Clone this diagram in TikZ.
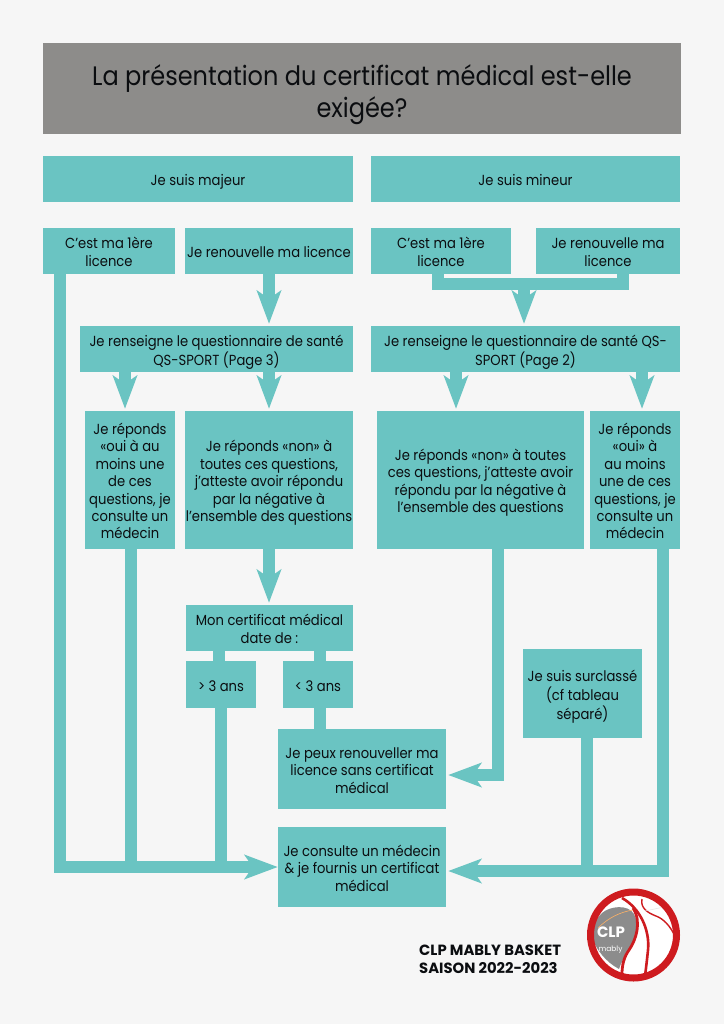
\documentclass[tikz,border=0pt]{standalone}
\usepackage{fontspec}
\setmainfont{Poppins}[FakeStretch=0.9]
\newfontfamily\footfont{Poppins}
\usetikzlibrary{arrows.meta,calc}
\definecolor{teal1}{HTML}{6AC4C2}
\definecolor{pagebg}{HTML}{F6F6F6}
\definecolor{ink}{HTML}{0B0D10}
\definecolor{logored}{HTML}{CE1B1F}
\definecolor{logogray}{HTML}{8C8C8C}
\definecolor{titlegray}{HTML}{8D8C8A}
\tikzset{
  x=1pt,y=-1pt,
  boxn/.style={fill=teal1,text=ink,inner sep=0pt,font=\fontsize{14.6}{17.4}\selectfont},
  link/.style={draw=teal1,line width=12pt},
  flow/.style={link,-{Stealth[length=33pt,width=24pt,inset=8pt]},shorten >=2pt},
  flowb/.style={link,-{Stealth[length=33pt,width=24pt,inset=8pt]},shorten >=0pt},
}
\newcommand{\lowtxt}[2]{\raisebox{-#1}[\height][\depth]{\begin{tabular}{@{}c@{}}#2\end{tabular}}}
\newcommand{\bx}[6]{\node[boxn,minimum width=#4pt-#2pt,minimum height=#5pt-#3pt] (#1) at ({(#2+#4)/2},{(#3+#5)/2}) {\lowtxt{3.2pt}{#6}};}
\begin{document}
\begin{tikzpicture}
\useasboundingbox (0,0) rectangle (724,1024);
\fill[pagebg] (0,0) rectangle (724,1024);
% title
\node[minimum width=638pt,minimum height=91pt,inner sep=0pt,fill=titlegray,
  text=ink,font=\fontsize{26.7}{32}\selectfont] (title) at (362,88.5)
  {\lowtxt{7pt}{La présentation du certificat médical est-elle\\exigée?}};
\bx{maj}{43}{156}{353}{202}{Je suis majeur}
\bx{min}{371}{156}{680}{202}{Je suis mineur}
\bx{cl}{43}{228}{175}{274}{C’est ma 1ère\\licence}
\bx{rl}{185}{228}{353}{274}{Je renouvelle ma licence}
\bx{cr}{371}{228}{511}{274}{C’est ma 1ère\\licence}
\bx{rr}{536}{228}{680}{274}{Je renouvelle ma\\licence}
\bx{ql}{80}{326}{353}{372}{Je renseigne le questionnaire de santé\\QS-SPORT (Page 3)}
\bx{qr}{371}{326}{680}{372}{Je renseigne le questionnaire de santé QS-\\SPORT (Page 2)}
\bx{oul}{85}{411}{175}{549}{Je réponds\\«oui à au\\moins une\\de ces\\questions, je\\consulte un\\médecin}
\bx{nol}{185}{411}{353}{549}{Je réponds «non» à\\toutes ces questions,\\j’atteste avoir répondu\\par la négative à\\l’ensemble des questions}
\bx{nor}{377}{411}{584}{549}{Je réponds «non» à toutes\\ces questions, j’atteste avoir\\répondu par la négative à\\l’ensemble des questions}
\bx{our}{590}{411}{680}{549}{Je réponds\\«oui» à\\au moins\\une de ces\\questions, je\\consulte un\\médecin}
\bx{cert}{186}{605}{353}{651}{Mon certificat médical\\date de :}
\bx{gt}{186}{661}{256}{708}{> 3 ans}
\bx{lt}{283}{661}{353}{708}{< 3 ans}
\bx{peux}{278}{729}{446}{809}{Je peux renouveller ma\\licence sans certificat\\médical}
\bx{cons}{278}{827}{446}{907}{Je consulte un médecin\\\& je fournis un certificat\\médical}
\bx{surc}{523}{649}{642}{738}{Je suis surclassé\\(cf tableau\\séparé)}
% free-end coordinates
\coordinate (xa) at (60,0);
\coordinate (xb) at (131,0);
\coordinate (xc) at (125,0);
\coordinate (xd) at (221,0);
\coordinate (xe) at (219,0);
\coordinate (xf) at (320,0);
\coordinate (xg) at (269,0);
\coordinate (xh) at (438,0);
\coordinate (xi) at (623,0);
\coordinate (xj) at (524,0);
\coordinate (xk) at (456,0);
\coordinate (xl) at (642,0);
\coordinate (xm) at (498,0);
\coordinate (xn) at (663,0);
\coordinate (xo) at (587,0);
\coordinate (bar) at (0,283.5);
\coordinate (pin) at (0,775);
\coordinate (cin) at (0,871);
% connectors
\draw[flow] (xg |- rl.south) -- (xg |- ql.north);
\draw[flow] (xc |- ql.south) -- (xc |- oul.north);
\draw[flow] (xg |- ql.south) -- (xg |- nol.north);
\draw[flow] (xg |- nol.south) -- (xg |- cert.north);
\draw[link] (xe |- cert.south) -- (xe |- gt.north);
\draw[link] (xf |- cert.south) -- (xf |- lt.north);
\draw[link] (xf |- lt.south) -- (xf |- peux.north);
\draw[link,line join=miter] (xh |- cr.south) -- (xh |- bar) -- (xi |- bar) -- (xi |- rr.south);
\draw[flow] (xj |- bar) -- (xj |- qr.north);
\draw[flow] (xk |- qr.south) -- (xk |- nor.north);
\draw[flow] (xl |- qr.south) -- (xl |- our.north);
\draw[flowb,line join=miter] (xa |- cl.south) |- (cons.west);
\draw[link] (xb |- oul.south) -- (xb |- cons.west);
\draw[link] (xd |- gt.south) -- (xd |- cons.west);
\draw[flow,line join=miter] (xm |- nor.south) |- (peux.east |- pin);
\draw[flow,line join=miter] (xn |- our.south) |- (cons.east |- cin);
\draw[link] (xo |- surc.south) -- (xo |- cin);
% footer
\node[anchor=west,inner sep=0pt,align=left,text=ink,font=\footfont\fontsize{14.8}{18}\bfseries\selectfont] (foot) at (419,959.5)
  {CLP MABLY BASKET\\SAISON 2022-2023};
% logo
\fill[white!97!pagebg] (633.5,935) circle (44);
\fill[logogray] (602,913) .. controls (610,906) and (628,904) .. (634,914)
  .. controls (640,926) and (636,940) .. (629,950)
  .. controls (624,957) and (621,963) .. (619,969)
  .. controls (606,962) and (596,950) .. (591,935) .. controls (592,927) and (596,919) .. (602,913) -- cycle;
\draw[logored,line width=2.6pt] (622,898) .. controls (640,908) and (650,930) .. (648,950) .. controls (647,960) and (646,968) .. (645,976);
\draw[logored,line width=2.8pt] (633,908) .. controls (642,922) and (636,940) .. (629,950) .. controls (624,957) and (622,965) .. (622,974);
\draw[logored,line width=1.4pt] (642,899) .. controls (640,908) and (648,913) .. (656,916) .. controls (664,919) and (670,926) .. (675,936);
\draw[orange!60!white,line width=.6pt] (598,928) .. controls (608,918) and (620,912) .. (633,910);
\draw[white!80!gray,line width=.5pt] (645,911) -- (664,907);
\draw[logored,line width=7pt] (633.5,935) circle (43);
\node[text=white,inner sep=0pt,font=\footfont\bfseries\fontsize{15}{15}\selectfont] (clp) at (611,932.5) {CLP};
\node[text=white,inner sep=0pt,font=\footfont\fontsize{7.5}{8}\selectfont] (mably) at (610.5,949.5) {mably};
\end{tikzpicture}
\end{document}
